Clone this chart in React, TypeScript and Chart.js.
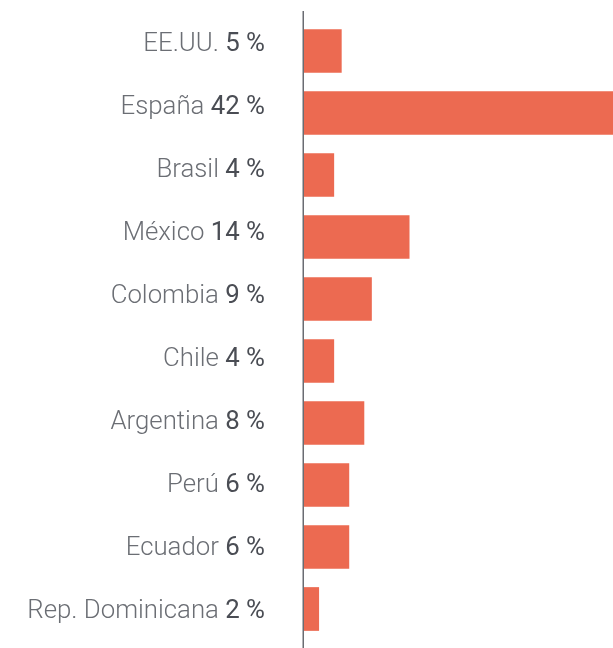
import React, { useEffect, useRef } from 'react';
import { Chart, registerables } from 'chart.js';

Chart.register(...registerables);

// Data
const categories: string[] = [
  'EE.UU.',
  'España',
  'Brasil',
  'México',
  'Colombia',
  'Chile',
  'Argentina',
  'Perú',
  'Ecuador',
  'Rep. Dominicana',
];
const values: number[] = [5, 42, 4, 14, 9, 4, 8, 6, 6, 2];
const valueLabels: string[] = values.map((v) => `${v} %`);

const BAR_COLOR = '#EC6A51';
const NAME_COLOR = '#6b6e74';
const NUM_COLOR = '#4a4d54';
const AXIS_COLOR = '#6a6c72';
const FONT_SIZE = 25.8;
// label rows are spaced slightly wider than the bar rows (63 vs 62)
const LABEL_PITCH_RATIO = 63 / 62;

export default function App() {
  const ref = useRef<HTMLCanvasElement>(null);

  useEffect(() => {
    const canvas = ref.current;
    if (!canvas) return;

    const labelPlugin = {
      id: 'sideLabels',
      afterDatasetsDraw(chart: any) {
        const { ctx, chartArea } = chart;
        const ys = chart.scales.y;
        const n = categories.length;
        const yFirst = ys.getPixelForValue(0);
        const yLast = ys.getPixelForValue(n - 1);
        const pitch = ((yLast - yFirst) / (n - 1)) * LABEL_PITCH_RATIO;
        ctx.save();
        // vertical axis line
        ctx.strokeStyle = AXIS_COLOR;
        ctx.lineWidth = 1.5;
        ctx.beginPath();
        const ax = chartArea.left - 0.75;
        ctx.moveTo(ax, chartArea.top - 9);
        ctx.lineTo(ax, chart.height);
        ctx.stroke();

        const right = chartArea.left - 39;
        ctx.textAlign = 'right';
        ctx.textBaseline = 'alphabetic';
        categories.forEach((name, i) => {
          const center = yLast - 0.5 - (n - 1 - i) * pitch;
          const y = center + FONT_SIZE * 0.355;
          ctx.font = `400 ${FONT_SIZE}px Roboto`;
          const numW = ctx.measureText(valueLabels[i]).width;
          ctx.fillStyle = NUM_COLOR;
          ctx.fillText(valueLabels[i], right, y);
          ctx.font = `300 ${FONT_SIZE}px Roboto`;
          const sp = ctx.measureText(' ').width;
          ctx.fillStyle = NAME_COLOR;
          ctx.fillText(name, right - numW - sp, y);
        });
        ctx.restore();
      },
    };

    const chart = new Chart(canvas, {
      type: 'bar',
      data: {
        labels: categories,
        datasets: [
          {
            data: values,
            backgroundColor: BAR_COLOR,
            borderWidth: 0,
            barPercentage: 0.705,
            categoryPercentage: 1,
          },
        ],
      },
      options: {
        indexAxis: 'y',
        responsive: false,
        animation: false,
        devicePixelRatio: 1,
        layout: { padding: { left: 304, right: 0, top: 20, bottom: 8 } },
        plugins: {
          legend: { display: false },
          tooltip: { enabled: false },
        },
        scales: {
          x: { display: false, min: 0, max: 41 },
          y: { display: false, offset: true, grid: { display: false } },
        },
      },
      plugins: [labelPlugin],
    } as any);

    return () => chart.destroy();
  }, []);

  return (
    <div style={{ position: 'absolute', left: 0, top: 0, width: 613, height: 648, background: '#fff' }}>
      <canvas ref={ref} width={613} height={648} style={{ display: 'block' }} />
    </div>
  );
}
